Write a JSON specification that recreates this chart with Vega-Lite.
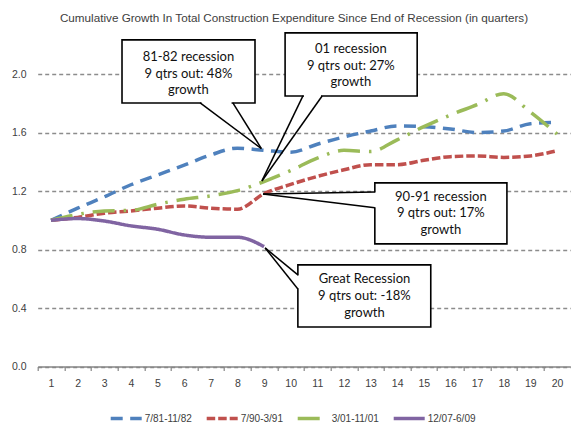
{
  "$schema": "https://vega.github.io/schema/vega-lite/v6.json",
  "autosize": "none",
  "width": 532.6,
  "height": 292.6,
  "padding": {"left": 37.7, "top": 74, "right": 2.7, "bottom": 60.4},
  "background": "white",
  "title": {
    "text": "Cumulative Growth In Total Construction Expenditure Since End of Recession (in quarters)",
    "font": "Liberation Sans",
    "fontSize": 11.7,
    "fontWeight": "normal",
    "color": "#404040",
    "anchor": "middle",
    "frame": "group",
    "dx": -10,
    "baseline": "alphabetic",
    "offset": -1.5
  },
  "config": {
    "view": {"stroke": null},
    "font": "Liberation Sans"
  },
  "datasets": {
    "series": [
      {"q": 1, "period": "7/81-11/82", "value": 1.0},
      {"q": 2, "period": "7/81-11/82", "value": 1.083},
      {"q": 3, "period": "7/81-11/82", "value": 1.16},
      {"q": 4, "period": "7/81-11/82", "value": 1.243},
      {"q": 5, "period": "7/81-11/82", "value": 1.31},
      {"q": 6, "period": "7/81-11/82", "value": 1.377},
      {"q": 7, "period": "7/81-11/82", "value": 1.447},
      {"q": 8, "period": "7/81-11/82", "value": 1.493},
      {"q": 9, "period": "7/81-11/82", "value": 1.478},
      {"q": 10, "period": "7/81-11/82", "value": 1.465},
      {"q": 11, "period": "7/81-11/82", "value": 1.52},
      {"q": 12, "period": "7/81-11/82", "value": 1.57},
      {"q": 13, "period": "7/81-11/82", "value": 1.61},
      {"q": 14, "period": "7/81-11/82", "value": 1.645},
      {"q": 15, "period": "7/81-11/82", "value": 1.64},
      {"q": 16, "period": "7/81-11/82", "value": 1.624},
      {"q": 17, "period": "7/81-11/82", "value": 1.6},
      {"q": 18, "period": "7/81-11/82", "value": 1.61},
      {"q": 19, "period": "7/81-11/82", "value": 1.66},
      {"q": 20, "period": "7/81-11/82", "value": 1.67},
      {"q": 1, "period": "7/90-3/91", "value": 1.0},
      {"q": 2, "period": "7/90-3/91", "value": 1.02},
      {"q": 3, "period": "7/90-3/91", "value": 1.048},
      {"q": 4, "period": "7/90-3/91", "value": 1.064},
      {"q": 5, "period": "7/90-3/91", "value": 1.083},
      {"q": 6, "period": "7/90-3/91", "value": 1.098},
      {"q": 7, "period": "7/90-3/91", "value": 1.083},
      {"q": 8, "period": "7/90-3/91", "value": 1.076},
      {"q": 9, "period": "7/90-3/91", "value": 1.182},
      {"q": 10, "period": "7/90-3/91", "value": 1.245},
      {"q": 11, "period": "7/90-3/91", "value": 1.3},
      {"q": 12, "period": "7/90-3/91", "value": 1.345},
      {"q": 13, "period": "7/90-3/91", "value": 1.38},
      {"q": 14, "period": "7/90-3/91", "value": 1.38},
      {"q": 15, "period": "7/90-3/91", "value": 1.41},
      {"q": 16, "period": "7/90-3/91", "value": 1.435},
      {"q": 17, "period": "7/90-3/91", "value": 1.44},
      {"q": 18, "period": "7/90-3/91", "value": 1.43},
      {"q": 19, "period": "7/90-3/91", "value": 1.44},
      {"q": 20, "period": "7/90-3/91", "value": 1.475},
      {"q": 1, "period": "3/01-11/01", "value": 1.0},
      {"q": 2, "period": "3/01-11/01", "value": 1.04},
      {"q": 3, "period": "3/01-11/01", "value": 1.064},
      {"q": 4, "period": "3/01-11/01", "value": 1.068},
      {"q": 5, "period": "3/01-11/01", "value": 1.11},
      {"q": 6, "period": "3/01-11/01", "value": 1.144},
      {"q": 7, "period": "3/01-11/01", "value": 1.167},
      {"q": 8, "period": "3/01-11/01", "value": 1.203},
      {"q": 9, "period": "3/01-11/01", "value": 1.265},
      {"q": 10, "period": "3/01-11/01", "value": 1.34},
      {"q": 11, "period": "3/01-11/01", "value": 1.425},
      {"q": 12, "period": "3/01-11/01", "value": 1.478},
      {"q": 13, "period": "3/01-11/01", "value": 1.47},
      {"q": 14, "period": "3/01-11/01", "value": 1.55},
      {"q": 15, "period": "3/01-11/01", "value": 1.64},
      {"q": 16, "period": "3/01-11/01", "value": 1.72},
      {"q": 17, "period": "3/01-11/01", "value": 1.79},
      {"q": 18, "period": "3/01-11/01", "value": 1.865},
      {"q": 19, "period": "3/01-11/01", "value": 1.74},
      {"q": 20, "period": "3/01-11/01", "value": 1.59},
      {"q": 1, "period": "12/07-6/09", "value": 1.0},
      {"q": 2, "period": "12/07-6/09", "value": 1.012},
      {"q": 3, "period": "12/07-6/09", "value": 0.995},
      {"q": 4, "period": "12/07-6/09", "value": 0.962},
      {"q": 5, "period": "12/07-6/09", "value": 0.939},
      {"q": 6, "period": "12/07-6/09", "value": 0.9},
      {"q": 7, "period": "12/07-6/09", "value": 0.884},
      {"q": 8, "period": "12/07-6/09", "value": 0.884},
      {"q": 9, "period": "12/07-6/09", "value": 0.82}
    ],
    "boxes": [
      {"q": 3.666, "q2": 8.66, "value": 2.233, "value2": 1.802},
      {"q": 9.79, "q2": 14.75, "value": 2.281, "value2": 1.85},
      {"q": 13.16, "q2": 18.12, "value": 1.256, "value2": 0.839},
      {"q": 10.27, "q2": 15.26, "value": 0.695, "value2": 0.271}
    ],
    "covers": [
      {"q": 6.65, "q2": 7.78, "value": 1.802, "value2": 1.802},
      {"q": 10.5, "q2": 11.14, "value": 1.85, "value2": 1.85},
      {"q": 13.16, "q2": 13.16, "value": 1.19, "value2": 1.089},
      {"q": 10.27, "q2": 10.27, "value": 0.623, "value2": 0.535}
    ],
    "wedges": [
      {"q": 6.6, "value": 1.802, "q2": 8.9, "value2": 1.49},
      {"q": 7.83, "value": 1.802, "q2": 8.9, "value2": 1.49},
      {"q": 10.46, "value": 1.85, "q2": 8.92, "value2": 1.269},
      {"q": 11.18, "value": 1.85, "q2": 8.92, "value2": 1.269},
      {"q": 13.16, "value": 1.194, "q2": 8.96, "value2": 1.18},
      {"q": 13.16, "value": 1.085, "q2": 8.96, "value2": 1.18},
      {"q": 10.27, "value": 0.627, "q2": 9.04, "value2": 0.811},
      {"q": 10.27, "value": 0.531, "q2": 9.04, "value2": 0.811}
    ],
    "notes": [
      {"q": 6.16, "value": 2.117, "label": "81-82 recession\n9 qtrs out: 48%\ngrowth"},
      {"q": 12.26, "value": 2.172, "label": "01 recession\n9 qtrs out: 27%\ngrowth"},
      {"q": 15.64, "value": 1.162, "label": "90-91 recession\n9 qtrs out: 17%\ngrowth"},
      {"q": 12.77, "value": 0.597, "label": "Great Recession\n9 qtrs out: -18%\ngrowth"}
    ]
  },
  "encoding": {
    "x": {
      "field": "q", "type": "quantitative",
      "scale": {"domain": [0.5, 20.5], "nice": false, "zero": false},
      "axis": {
        "title": null,
        "values": [1, 2, 3, 4, 5, 6, 7, 8, 9, 10, 11, 12, 13, 14, 15, 16, 17, 18, 19, 20, 21],
        "labelExpr": "datum.value > 20 ? '' : datum.label",
        "labelOverlap": false,
        "labelBound": false,
        "labelFlush": false,
        "grid": false,
        "domainColor": "#868686",
        "domainWidth": 1.5,
        "tickColor": "#868686",
        "tickWidth": 1.2,
        "tickSize": 4,
        "tickOffset": -13.315,
        "labelOffset": 13.315,
        "labelFont": "Liberation Sans",
        "labelFontSize": 10.5,
        "labelColor": "#404040",
        "labelPadding": 8
      }
    },
    "y": {
      "field": "value", "type": "quantitative",
      "scale": {"domain": [0, 2], "nice": false, "zero": true},
      "axis": {
        "title": null,
        "values": [0, 0.4, 0.8, 1.2, 1.6, 2.0],
        "format": ".1f",
        "domain": false,
        "ticks": false,
        "grid": true,
        "gridColor": "#8c8c8c",
        "gridDash": [4, 3],
        "gridWidth": 1.3,
        "labelFont": "Liberation Sans",
        "labelFontSize": 10.5,
        "labelColor": "#404040",
        "labelPadding": 11.7
      }
    }
  },
  "layer": [
    {
      "data": {"name": "series"},
      "mark": {"type": "line", "interpolate": "monotone", "strokeWidth": 3.5, "strokeCap": "butt"},
      "encoding": {
        "color": {
          "field": "period", "type": "nominal",
          "scale": {"domain": ["7/81-11/82", "7/90-3/91", "3/01-11/01", "12/07-6/09"], "range": ["#4F81BD", "#C0504D", "#9BBB59", "#8064A2"]},
          "legend": {
            "title": null,
            "orient": "none",
            "direction": "horizontal",
            "gridAlign": "none",
            "legendX": 71,
            "legendY": 327,
            "symbolType": "stroke",
            "symbolSize": 961,
            "symbolStrokeWidth": 3.5,
            "labelFont": "Liberation Sans",
            "labelFontSize": 10,
            "labelColor": "#404040",
            "labelOffset": 1,
            "columnPadding": 7
          }
        },
        "strokeDash": {
          "field": "period", "type": "nominal",
          "scale": {"domain": ["7/81-11/82", "7/90-3/91", "3/01-11/01", "12/07-6/09"], "range": [[12, 7.5], [8.5, 3], [22, 9, 2.5, 9], [1, 0]]},
          "legend": {
            "title": null,
            "orient": "none",
            "direction": "horizontal",
            "gridAlign": "none",
            "legendX": 71,
            "legendY": 327,
            "symbolType": "stroke",
            "symbolSize": 961,
            "symbolStrokeWidth": 3.5,
            "labelFont": "Liberation Sans",
            "labelFontSize": 10,
            "labelColor": "#404040",
            "labelOffset": 1,
            "columnPadding": 7
          }
        }
      }
    },
    {
      "data": {"name": "boxes"},
      "mark": {"type": "rect", "fill": "white", "stroke": "black", "strokeWidth": 1.6},
      "encoding": {
        "x2": {"field": "q2"},
        "y2": {"field": "value2"}
      }
    },
    {
      "data": {"name": "covers"},
      "mark": {"type": "rule", "color": "white", "strokeWidth": 3},
      "encoding": {
        "x2": {"field": "q2"},
        "y2": {"field": "value2"}
      }
    },
    {
      "data": {"name": "wedges"},
      "mark": {"type": "rule", "color": "black", "strokeWidth": 1.5},
      "encoding": {
        "x2": {"field": "q2"},
        "y2": {"field": "value2"}
      }
    },
    {
      "data": {"name": "notes"},
      "mark": {"type": "text", "font": "Lato", "fontSize": 13, "color": "#111111", "lineBreak": "\n", "lineHeight": 16.7, "align": "center", "baseline": "middle"},
      "encoding": {
        "text": {"field": "label"}
      }
    }
  ]
}
